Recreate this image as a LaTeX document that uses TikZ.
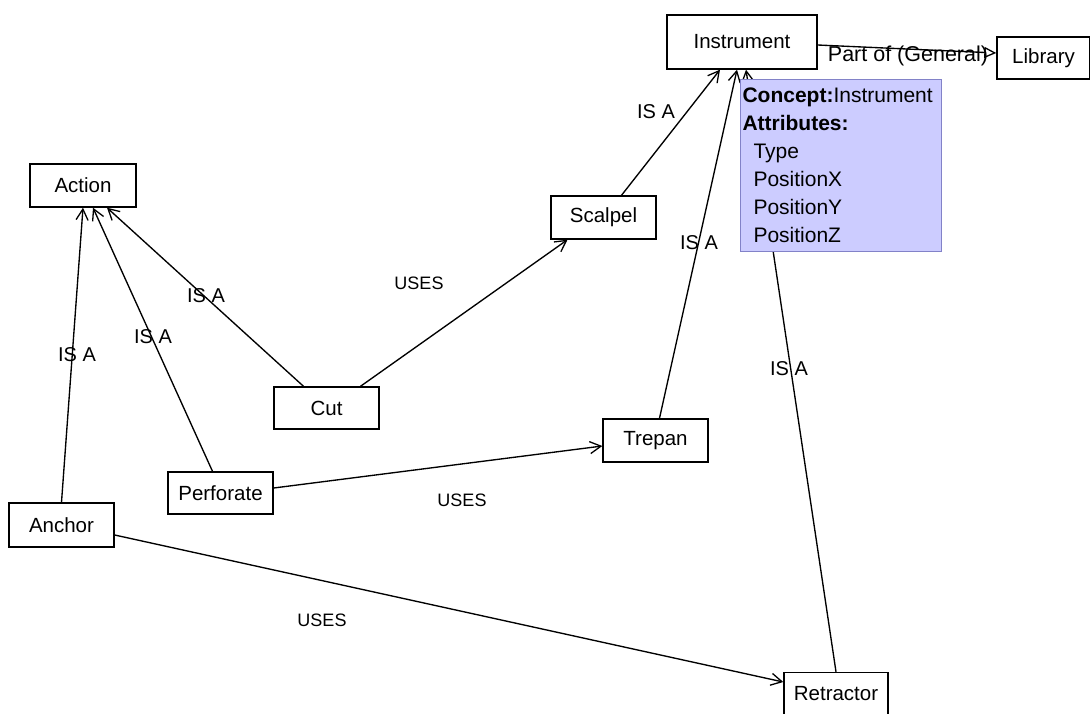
\documentclass[tikz,border=0pt]{standalone}
\usepackage{fontspec}
\setmainfont{Liberation Sans}
\usetikzlibrary{arrows.meta}
\definecolor{conceptfill}{RGB}{204,204,255}
\definecolor{conceptdraw}{RGB}{130,130,200}
\begin{document}
\begin{tikzpicture}[x=1pt,y=-1pt,
  box/.style={draw, line width=1.4pt, fill=white, inner sep=0pt,
              font=\fontsize{20.5}{24}\selectfont},
  link/.style={line width=1.35pt,
               -{Straight Barb[length=11pt,width=12pt,line width=1.3pt]}},
  partof/.style={line width=1.35pt,
               -{Triangle[open,length=12pt,width=11pt,line width=1.3pt]}},
  lbl/.style={inner sep=0pt, font=\fontsize{20}{24}\selectfont},
  uses/.style={inner sep=0pt, font=\fontsize{18}{22}\selectfont},
  concept/.style={draw=conceptdraw, fill=conceptfill, line width=1pt,
                  align=left, text width=197pt, minimum height=172pt,
                  inner xsep=2pt, inner ysep=0pt,
                  font=\fontsize{21}{28}\selectfont}]
\useasboundingbox (0,0) rectangle (1090,713);

% concepts
\node[box, minimum width=150pt, minimum height=54pt] (instrument) at (742,42) {Instrument};
\node[box, minimum width=93pt, minimum height=42pt] (library) at (1043.5,58) {Library};
\node[box, minimum width=106pt, minimum height=43pt] (action) at (83,185.5) {Action};
\node[box, minimum width=105pt, minimum height=43pt] (scalpel) at (603.5,217.5) {Scalpel};
\node[box, minimum width=105pt, minimum height=42pt] (cut) at (326.5,408) {Cut};
\node[box, minimum width=105pt, minimum height=43pt] (trepan) at (655.5,440.5) {Trepan};
\node[box, minimum width=105pt, minimum height=42pt] (perforate) at (220.5,493) {Perforate};
\node[box, minimum width=105pt, minimum height=44pt] (anchor) at (61.5,525) {Anchor};
\node[box, minimum width=104pt, minimum height=43pt] (retractor) at (836,694) {Retractor};

% IS A relations
\draw[link] ([xshift=-23pt]cut.north) -- ([xshift=24pt]action.south);
\draw[link] ([xshift=-8pt]perforate.north) -- ([xshift=10pt]action.south);
\draw[link] (anchor.north) -- (action.south);
\draw[link] ([xshift=18pt]scalpel.north) -- ([xshift=-22pt]instrument.south);
\draw[link] ([xshift=4pt]trepan.north) -- ([xshift=-5pt]instrument.south);
\draw[link] (retractor.north) -- ([xshift=4pt]instrument.south);

% USES relations
\draw[link] ([xshift=34pt]cut.north) -- ([xshift=-36pt]scalpel.south);
\draw[link] ([yshift=5pt]perforate.east) -- ([yshift=-5.5pt]trepan.west);
\draw[link] ([yshift=-10pt]anchor.east) -- ([yshift=12pt]retractor.west);

% part-of relation
\draw[partof] ([yshift=-3pt]instrument.east) -- ([yshift=5pt]library.west);

% relation labels
\node[lbl] (isacut) at (206,296) {IS A};
\node[lbl] (isaperforate) at (153,337) {IS A};
\node[lbl] (isaanchor) at (77,355) {IS A};
\node[lbl] (isascalpel) at (656,112) {IS A};
\node[lbl] (isatrepan) at (699,243) {IS A};
\node[lbl] (isaretractor) at (789,369) {IS A};
\node[uses] (usescut) at (419,283) {USES};
\node[uses] (usesperforate) at (462,500) {USES};
\node[uses] (usesanchor) at (322,620) {USES};
\node[lbl, font=\fontsize{21.5}{24}\selectfont] (partlbl) at (908,56) {Part of (General)};

% concept details
\node[concept, anchor=north west] (details) at (740,79)
  {\textbf{Concept:}Instrument\\
   \textbf{Attributes:}\\
   \hspace*{11pt}Type\\
   \hspace*{11pt}PositionX\\
   \hspace*{11pt}PositionY\\
   \hspace*{11pt}PositionZ};
\end{tikzpicture}
\end{document}
